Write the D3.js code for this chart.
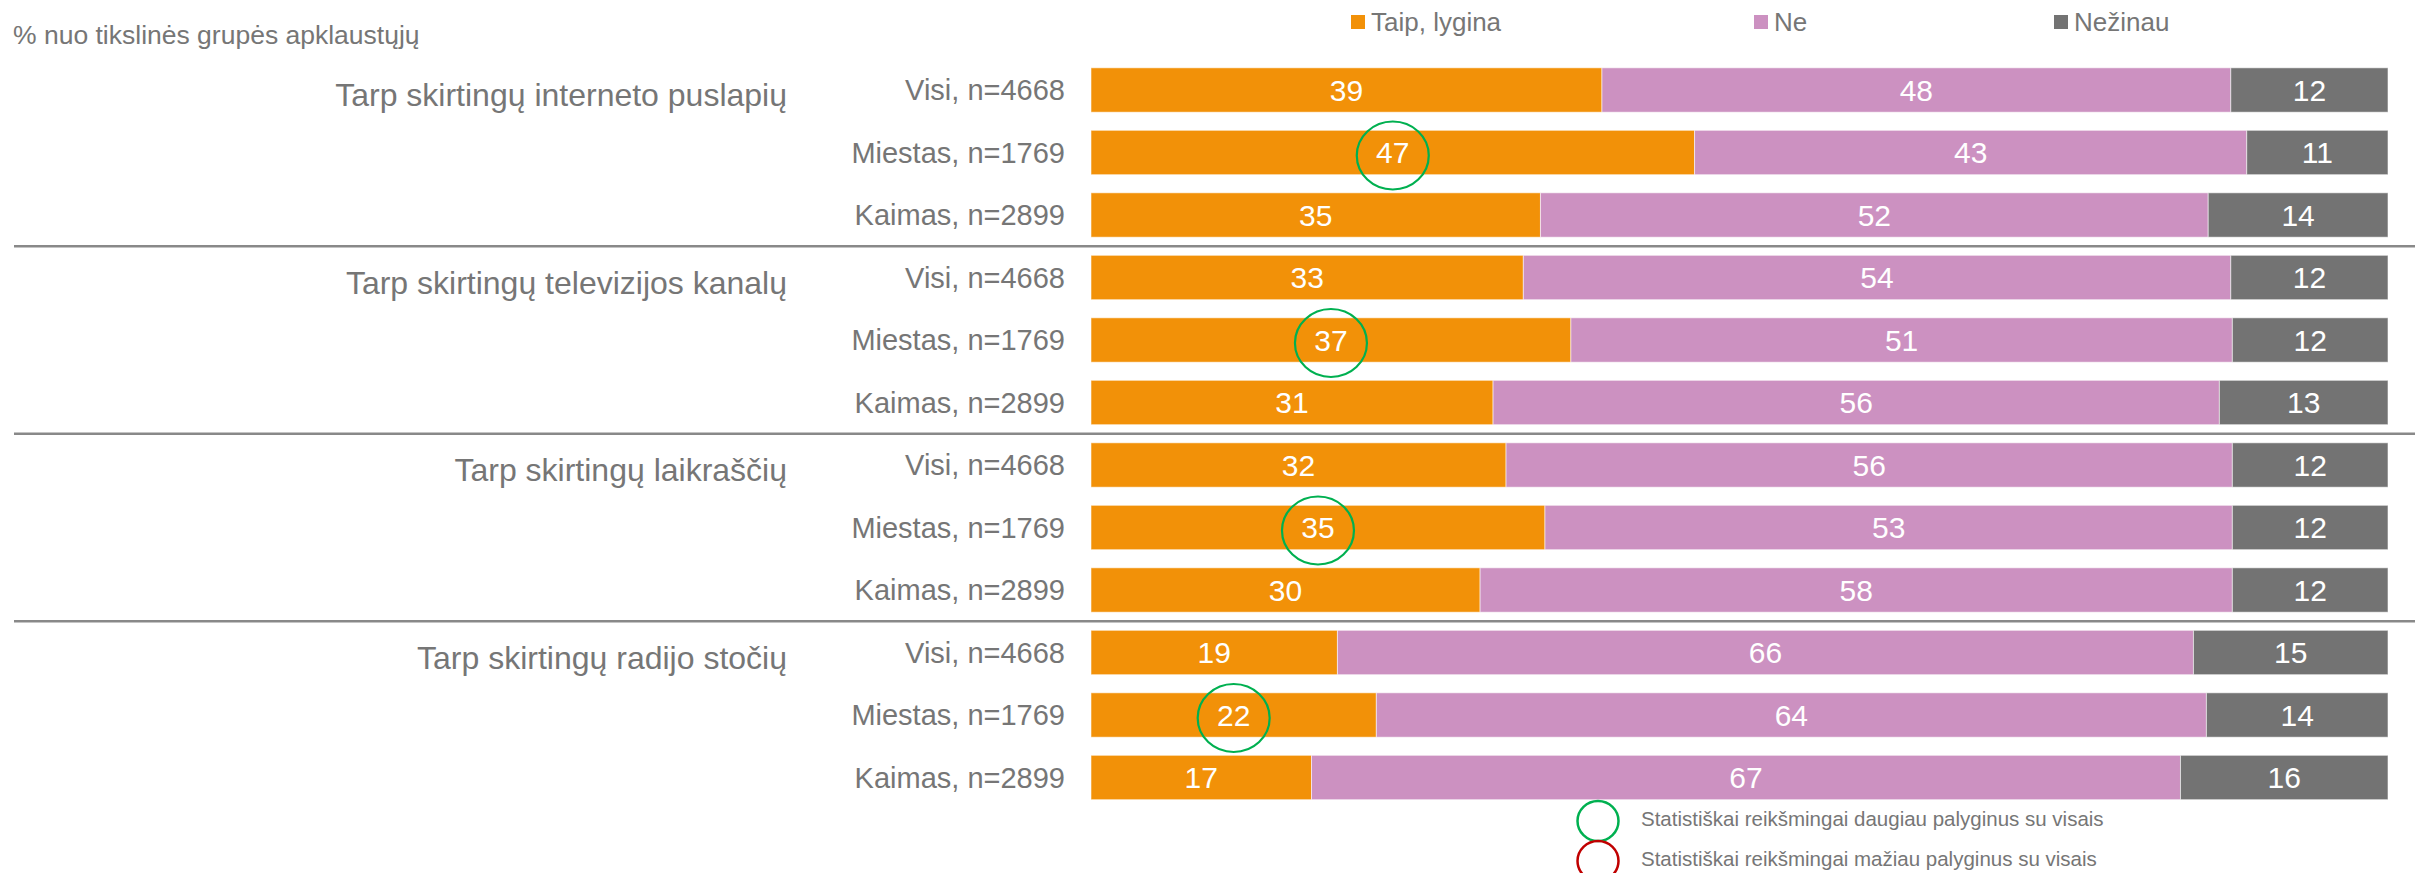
<!DOCTYPE html>
<html>
<head>
<meta charset="utf-8">
<script src="https://cdnjs.cloudflare.com/ajax/libs/d3/7.8.5/d3.min.js"></script>
<style>
body { margin: 0; background: #fff; }
text { font-family: "Liberation Sans", Arial, sans-serif; }
</style>
</head>
<body>
<svg id="chart" width="2415" height="873"></svg>
<script>
var title = "% nuo tikslinės grupės apklaustųjų";
var groups = ["Tarp skirtingų interneto puslapių", "Tarp skirtingų televizijos kanalų", "Tarp skirtingų laikraščių", "Tarp skirtingų radijo stočių"];
var subgroups = ["Visi, n=4668", "Miestas, n=1769", "Kaimas, n=2899"];
var seriesNames = ["Taip, lygina", "Ne", "Nežinau"];
var taip = [39, 47, 35, 33, 37, 31, 32, 35, 30, 19, 22, 17];
var ne = [48, 43, 52, 54, 51, 56, 56, 53, 58, 66, 64, 67];
var nezinau = [12, 11, 14, 12, 12, 13, 12, 12, 12, 15, 14, 16];
// 1 = reiksmingai daugiau, -1 = maziau (lyginant su visais), "Taip" stulpelis
var signif = [0, 1, 0, 0, 1, 0, 0, 1, 0, 0, 1, 0];
var signifLegend = ["Statistiškai reikšmingai daugiau palyginus su visais", "Statistiškai reikšmingai mažiau palyginus su visais"];

function main()
{
    var svg = d3.select("#chart");

    var colors = ["#F29108", "#CC91C1", "#737373"],
        textColor = "#767676",
        signifColors = ["#00B050", "#C00000"];

    // one row per group/subgroup pair
    var rows = [];
    groups.forEach(function(g, gi) {
        subgroups.forEach(function(s, si) {
            var i = gi * subgroups.length + si;
            var r = { id: i, group: g, label: s, signif: signif[i] };
            r[seriesNames[0]] = taip[i];
            r[seriesNames[1]] = ne[i];
            r[seriesNames[2]] = nezinau[i];
            rows.push(r);
        });
    });

    var y = d3.scaleBand()
        .domain(rows.map(function(d) { return d.id; }))
        .range([58.75, 808.75])
        .paddingInner(0.29)
        .paddingOuter(0.145);

    var x = d3.scaleLinear()
        .domain([0, 1])
        .range([1091, 2388]);

    var color = d3.scaleOrdinal()
        .domain(seriesNames)
        .range(colors);

    var stacked = d3.stack()
        .keys(seriesNames)
        .offset(d3.stackOffsetExpand)(rows);

    // title
    svg.append("text")
        .attr("x", 13)
        .attr("y", 44)
        .attr("font-size", 26.5)
        .attr("fill", textColor)
        .text(title);

    // legend
    var legendX = [1351, 1754, 2054];
    var legend = svg.selectAll(".legend")
        .data(seriesNames)
        .enter().append("g")
        .attr("class", "legend")
        .attr("transform", function(d, i) { return "translate(" + legendX[i] + ",0)"; });
    legend.append("rect")
        .attr("x", 0)
        .attr("y", 15)
        .attr("width", 14)
        .attr("height", 14)
        .attr("fill", function(d) { return color(d); });
    legend.append("text")
        .attr("x", 20)
        .attr("y", 31)
        .attr("font-size", 26)
        .attr("fill", textColor)
        .text(function(d) { return d; });

    // separators between groups
    var step = y.step();
    for (var g = 1; g < groups.length; g++) {
        var sy = y(g * subgroups.length) - (step - y.bandwidth()) / 2;
        svg.append("line")
            .attr("x1", 14)
            .attr("x2", 2415)
            .attr("y1", sy)
            .attr("y2", sy)
            .attr("stroke", "#898989")
            .attr("stroke-width", 2.5);
    }

    // bars
    var layer = svg.selectAll(".layer")
        .data(stacked)
        .enter().append("g")
        .attr("class", "layer")
        .attr("fill", function(d) { return color(d.key); });

    layer.selectAll("rect")
        .data(function(d) { return d; })
        .enter().append("rect")
        .attr("x", function(d) { return x(d[0]); })
        .attr("y", function(d) { return y(d.data.id); })
        .attr("width", function(d) { return x(d[1]) - x(d[0]); })
        .attr("height", y.bandwidth())
        .attr("stroke", "#ffffff")
        .attr("stroke-opacity", 0.55)
        .attr("stroke-width", 1);

    // value labels
    layer.selectAll("text")
        .data(function(d) { return d.map(function(p) { return { p: p, key: d.key }; }); })
        .enter().append("text")
        .attr("x", function(d) { return (x(d.p[0]) + x(d.p[1])) / 2; })
        .attr("y", function(d) { return y(d.p.data.id) + y.bandwidth() / 2; })
        .attr("dy", "0.35em")
        .attr("text-anchor", "middle")
        .attr("font-size", 30)
        .attr("fill", "#ffffff")
        .text(function(d) { return d.p.data[d.key]; });

    // significance marks on "Taip"
    svg.selectAll(".sig")
        .data(stacked[0].filter(function(d) { return d.data.signif != 0; }))
        .enter().append("ellipse")
        .attr("class", "sig")
        .attr("cx", function(d) { return (x(d[0]) + x(d[1])) / 2; })
        .attr("cy", function(d) { return y(d.data.id) + y.bandwidth() / 2 + 3; })
        .attr("rx", 36)
        .attr("ry", 34)
        .attr("fill", "none")
        .attr("stroke", function(d) { return d.data.signif > 0 ? signifColors[0] : signifColors[1]; })
        .attr("stroke-width", 2.2);

    // row labels
    svg.selectAll(".rowlabel")
        .data(rows)
        .enter().append("text")
        .attr("class", "rowlabel")
        .attr("x", 1065)
        .attr("y", function(d) { return y(d.id) + y.bandwidth() / 2; })
        .attr("dy", "0.35em")
        .attr("text-anchor", "end")
        .attr("font-size", 29)
        .attr("fill", textColor)
        .text(function(d) { return d.label; });

    // group labels
    svg.selectAll(".grouplabel")
        .data(groups)
        .enter().append("text")
        .attr("class", "grouplabel")
        .attr("x", 787)
        .attr("y", function(d, i) { return y(i * subgroups.length) + y.bandwidth() / 2 + 5; })
        .attr("dy", "0.35em")
        .attr("text-anchor", "end")
        .attr("font-size", 32)
        .attr("fill", textColor)
        .text(function(d) { return d; });

    // significance legend
    var sigLegend = svg.selectAll(".siglegend")
        .data(signifLegend)
        .enter().append("g")
        .attr("class", "siglegend")
        .attr("transform", function(d, i) { return "translate(1598," + (821 + i * 40) + ")"; });
    sigLegend.append("ellipse")
        .attr("rx", 20.5)
        .attr("ry", 20)
        .attr("fill", "none")
        .attr("stroke", function(d, i) { return signifColors[i]; })
        .attr("stroke-width", 2.5);
    sigLegend.append("text")
        .attr("x", 43)
        .attr("y", -2)
        .attr("dy", "0.35em")
        .attr("font-size", 20.5)
        .attr("fill", textColor)
        .text(function(d) { return d; });
}

main();
</script>
</body>
</html>
